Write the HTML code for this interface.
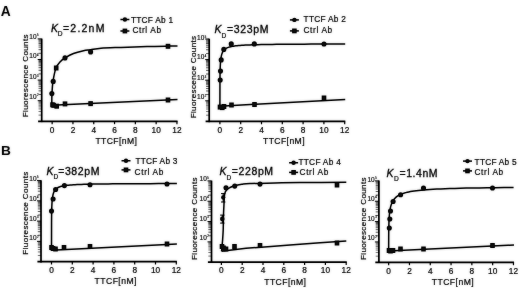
<!DOCTYPE html>
<html><head><meta charset="utf-8"><title>Figure</title>
<style>
html,body{margin:0;padding:0;background:#fff;}
body{width:520px;height:288px;overflow:hidden;}
svg{display:block;font-family:"Liberation Sans",sans-serif;fill:#0a0a0a;}
text{stroke:#0a0a0a;stroke-width:0.2px;}
text.k{stroke-width:0.3px;}
text.t{stroke-width:0.15px;}
text.y{stroke-width:0.2px;}
</style></head><body>
<svg width="520" height="288" viewBox="0 0 520 288">
<rect width="520" height="288" fill="#fff"/>
<g filter="url(#b)">
<text x="0.7" y="15.6" font-size="13.8" font-weight="bold" style="stroke-width:0">A</text>
<text x="1.0" y="155.3" font-size="13.7" font-weight="bold" style="stroke-width:0">B</text>
<line x1="41.70" y1="38.60" x2="41.70" y2="122.10" stroke="#000" stroke-width="1.70"/>
<line x1="38.10" y1="121.30" x2="177.55" y2="121.30" stroke="#000" stroke-width="1.70"/>
<line x1="52.15" y1="121.30" x2="52.15" y2="124.20" stroke="#000" stroke-width="1.20"/>
<text x="52.15" y="132.90" font-size="8.30" text-anchor="middle" >0</text>
<line x1="72.95" y1="121.30" x2="72.95" y2="124.20" stroke="#000" stroke-width="1.20"/>
<text x="72.95" y="132.90" font-size="8.30" text-anchor="middle" >2</text>
<line x1="93.75" y1="121.30" x2="93.75" y2="124.20" stroke="#000" stroke-width="1.20"/>
<text x="93.75" y="132.90" font-size="8.30" text-anchor="middle" >4</text>
<line x1="114.55" y1="121.30" x2="114.55" y2="124.20" stroke="#000" stroke-width="1.20"/>
<text x="114.55" y="132.90" font-size="8.30" text-anchor="middle" >6</text>
<line x1="135.35" y1="121.30" x2="135.35" y2="124.20" stroke="#000" stroke-width="1.20"/>
<text x="135.35" y="132.90" font-size="8.30" text-anchor="middle" >8</text>
<line x1="156.15" y1="121.30" x2="156.15" y2="124.20" stroke="#000" stroke-width="1.20"/>
<text x="156.15" y="132.90" font-size="8.30" text-anchor="middle" >10</text>
<line x1="176.95" y1="121.30" x2="176.95" y2="124.20" stroke="#000" stroke-width="1.20"/>
<text x="176.95" y="132.90" font-size="8.30" text-anchor="middle" >12</text>
<line x1="37.70" y1="38.90" x2="41.70" y2="38.90" stroke="#000" stroke-width="1.00"/>
<line x1="38.50" y1="53.30" x2="41.70" y2="53.30" stroke="#000" stroke-width="0.80" opacity="0.80"/>
<line x1="38.50" y1="49.67" x2="41.70" y2="49.67" stroke="#000" stroke-width="0.80" opacity="0.80"/>
<line x1="38.50" y1="47.10" x2="41.70" y2="47.10" stroke="#000" stroke-width="0.80" opacity="0.80"/>
<line x1="38.50" y1="45.10" x2="41.70" y2="45.10" stroke="#000" stroke-width="0.80" opacity="0.80"/>
<line x1="38.50" y1="43.47" x2="41.70" y2="43.47" stroke="#000" stroke-width="0.80" opacity="0.80"/>
<line x1="38.50" y1="42.09" x2="41.70" y2="42.09" stroke="#000" stroke-width="0.80" opacity="0.80"/>
<line x1="38.50" y1="40.90" x2="41.70" y2="40.90" stroke="#000" stroke-width="0.80" opacity="0.80"/>
<line x1="38.50" y1="39.84" x2="41.70" y2="39.84" stroke="#000" stroke-width="0.80" opacity="0.80"/>
<text x="36.60" y="39.00" font-size="6.50" text-anchor="end" class="t">10</text>
<text x="37.10" y="36.40" font-size="2.70" text-anchor="start" class="t">5</text>
<line x1="37.70" y1="59.50" x2="41.70" y2="59.50" stroke="#000" stroke-width="1.00"/>
<line x1="38.50" y1="73.90" x2="41.70" y2="73.90" stroke="#000" stroke-width="0.80" opacity="0.80"/>
<line x1="38.50" y1="70.27" x2="41.70" y2="70.27" stroke="#000" stroke-width="0.80" opacity="0.80"/>
<line x1="38.50" y1="67.70" x2="41.70" y2="67.70" stroke="#000" stroke-width="0.80" opacity="0.80"/>
<line x1="38.50" y1="65.70" x2="41.70" y2="65.70" stroke="#000" stroke-width="0.80" opacity="0.80"/>
<line x1="38.50" y1="64.07" x2="41.70" y2="64.07" stroke="#000" stroke-width="0.80" opacity="0.80"/>
<line x1="38.50" y1="62.69" x2="41.70" y2="62.69" stroke="#000" stroke-width="0.80" opacity="0.80"/>
<line x1="38.50" y1="61.50" x2="41.70" y2="61.50" stroke="#000" stroke-width="0.80" opacity="0.80"/>
<line x1="38.50" y1="60.44" x2="41.70" y2="60.44" stroke="#000" stroke-width="0.80" opacity="0.80"/>
<text x="36.60" y="58.10" font-size="6.50" text-anchor="end" class="t">10</text>
<text x="37.10" y="55.50" font-size="2.70" text-anchor="start" class="t">4</text>
<line x1="37.70" y1="80.10" x2="41.70" y2="80.10" stroke="#000" stroke-width="1.00"/>
<line x1="38.50" y1="94.50" x2="41.70" y2="94.50" stroke="#000" stroke-width="0.80" opacity="0.80"/>
<line x1="38.50" y1="90.87" x2="41.70" y2="90.87" stroke="#000" stroke-width="0.80" opacity="0.80"/>
<line x1="38.50" y1="88.30" x2="41.70" y2="88.30" stroke="#000" stroke-width="0.80" opacity="0.80"/>
<line x1="38.50" y1="86.30" x2="41.70" y2="86.30" stroke="#000" stroke-width="0.80" opacity="0.80"/>
<line x1="38.50" y1="84.67" x2="41.70" y2="84.67" stroke="#000" stroke-width="0.80" opacity="0.80"/>
<line x1="38.50" y1="83.29" x2="41.70" y2="83.29" stroke="#000" stroke-width="0.80" opacity="0.80"/>
<line x1="38.50" y1="82.10" x2="41.70" y2="82.10" stroke="#000" stroke-width="0.80" opacity="0.80"/>
<line x1="38.50" y1="81.04" x2="41.70" y2="81.04" stroke="#000" stroke-width="0.80" opacity="0.80"/>
<text x="36.60" y="79.30" font-size="6.50" text-anchor="end" class="t">10</text>
<text x="37.10" y="76.70" font-size="2.70" text-anchor="start" class="t">3</text>
<line x1="37.70" y1="100.70" x2="41.70" y2="100.70" stroke="#000" stroke-width="1.00"/>
<line x1="38.50" y1="115.10" x2="41.70" y2="115.10" stroke="#000" stroke-width="0.80" opacity="0.65"/>
<line x1="38.50" y1="111.47" x2="41.70" y2="111.47" stroke="#000" stroke-width="0.80" opacity="0.65"/>
<line x1="38.50" y1="108.90" x2="41.70" y2="108.90" stroke="#000" stroke-width="0.80" opacity="0.65"/>
<line x1="38.50" y1="106.90" x2="41.70" y2="106.90" stroke="#000" stroke-width="0.80" opacity="0.65"/>
<line x1="38.50" y1="105.27" x2="41.70" y2="105.27" stroke="#000" stroke-width="0.80" opacity="0.65"/>
<line x1="38.50" y1="103.89" x2="41.70" y2="103.89" stroke="#000" stroke-width="0.80" opacity="0.65"/>
<line x1="38.50" y1="102.70" x2="41.70" y2="102.70" stroke="#000" stroke-width="0.80" opacity="0.65"/>
<line x1="38.50" y1="101.64" x2="41.70" y2="101.64" stroke="#000" stroke-width="0.80" opacity="0.65"/>
<text x="36.60" y="98.50" font-size="6.50" text-anchor="end" class="t">10</text>
<text x="37.10" y="95.90" font-size="2.70" text-anchor="start" class="t">2</text>
<text transform="translate(28.00 117.20) rotate(-90)" font-size="8.1" class="y" text-anchor="start" textLength="82.80" lengthAdjust="spacing">Fluorescence Counts</text>
<text x="95.40" y="144.10" font-size="8.60" text-anchor="start" textLength="41.60" lengthAdjust="spacing" >TTCF[nM]</text>
<text x="50.90" y="31.50" font-size="10.50" text-anchor="start" font-style="italic" class="k">K</text>
<text x="57.80" y="35.60" font-size="6.60" text-anchor="start" >D</text>
<text x="63.00" y="31.50" font-size="10.50" text-anchor="start" textLength="41.40" lengthAdjust="spacing" class="k">=2.2nM</text>
<line x1="120.40" y1="19.50" x2="129.40" y2="19.50" stroke="#000" stroke-width="1.50"/>
<circle cx="124.90" cy="19.50" r="2.20"/>
<line x1="120.40" y1="31.00" x2="129.40" y2="31.00" stroke="#000" stroke-width="1.50"/>
<rect x="122.60" y="28.60" width="4.60" height="4.80"/>
<text x="131.00" y="22.60" font-size="8.30" text-anchor="start" textLength="42.00" lengthAdjust="spacing" >TTCF Ab 1</text>
<text x="132.40" y="33.40" font-size="8.30" text-anchor="start" textLength="28.60" lengthAdjust="spacing" >Ctrl Ab</text>
<path d="M51.80 105.00 C51.82 103.10 51.75 97.53 51.95 93.60 C52.15 89.67 52.33 85.67 53.00 81.40 C53.67 77.13 54.75 71.32 56.00 68.00 C57.25 64.68 59.00 63.18 60.50 61.50 C62.00 59.82 62.83 59.23 65.00 57.90 C67.17 56.57 70.42 54.69 73.50 53.50 C76.58 52.31 80.65 51.38 83.50 50.75 C86.35 50.12 87.68 50.17 90.60 49.75 C93.52 49.33 95.93 48.64 101.00 48.25 C106.07 47.86 113.33 47.69 121.00 47.40 C128.67 47.11 139.17 46.72 147.00 46.50 C154.83 46.28 162.92 46.18 168.00 46.10 C173.08 46.02 175.92 46.02 177.50 46.00" fill="none" stroke="#000" stroke-width="1.5" stroke-linejoin="round"/>
<path d="M51.85 105.30 L177.50 99.50" fill="none" stroke="#000" stroke-width="1.5"/>
<circle cx="51.85" cy="93.60" r="2.55"/>
<circle cx="53.20" cy="81.40" r="2.55"/>
<rect x="53.90" y="65.50" width="4.60" height="5.00"/>
<circle cx="65.00" cy="57.90" r="2.55"/>
<circle cx="90.60" cy="51.90" r="2.55"/>
<rect x="165.70" y="43.80" width="4.60" height="5.00"/>
<rect x="50.20" y="102.30" width="4.60" height="5.00"/>
<rect x="51.30" y="102.80" width="4.60" height="5.00"/>
<rect x="54.40" y="103.70" width="4.60" height="5.00"/>
<rect x="62.70" y="101.40" width="4.60" height="5.00"/>
<rect x="88.30" y="101.10" width="4.60" height="5.00"/>
<rect x="165.70" y="97.50" width="4.60" height="5.00"/>
<line x1="209.20" y1="38.70" x2="209.20" y2="122.20" stroke="#000" stroke-width="1.70"/>
<line x1="205.60" y1="121.40" x2="345.30" y2="121.40" stroke="#000" stroke-width="1.70"/>
<line x1="219.90" y1="121.40" x2="219.90" y2="124.30" stroke="#000" stroke-width="1.20"/>
<text x="219.90" y="132.90" font-size="8.30" text-anchor="middle" >0</text>
<line x1="240.70" y1="121.40" x2="240.70" y2="124.30" stroke="#000" stroke-width="1.20"/>
<text x="240.70" y="132.90" font-size="8.30" text-anchor="middle" >2</text>
<line x1="261.50" y1="121.40" x2="261.50" y2="124.30" stroke="#000" stroke-width="1.20"/>
<text x="261.50" y="132.90" font-size="8.30" text-anchor="middle" >4</text>
<line x1="282.30" y1="121.40" x2="282.30" y2="124.30" stroke="#000" stroke-width="1.20"/>
<text x="282.30" y="132.90" font-size="8.30" text-anchor="middle" >6</text>
<line x1="303.10" y1="121.40" x2="303.10" y2="124.30" stroke="#000" stroke-width="1.20"/>
<text x="303.10" y="132.90" font-size="8.30" text-anchor="middle" >8</text>
<line x1="323.90" y1="121.40" x2="323.90" y2="124.30" stroke="#000" stroke-width="1.20"/>
<text x="323.90" y="132.90" font-size="8.30" text-anchor="middle" >10</text>
<line x1="344.70" y1="121.40" x2="344.70" y2="124.30" stroke="#000" stroke-width="1.20"/>
<text x="344.70" y="132.90" font-size="8.30" text-anchor="middle" >12</text>
<line x1="205.20" y1="39.00" x2="209.20" y2="39.00" stroke="#000" stroke-width="1.00"/>
<line x1="206.00" y1="53.40" x2="209.20" y2="53.40" stroke="#000" stroke-width="0.80" opacity="0.80"/>
<line x1="206.00" y1="49.77" x2="209.20" y2="49.77" stroke="#000" stroke-width="0.80" opacity="0.80"/>
<line x1="206.00" y1="47.20" x2="209.20" y2="47.20" stroke="#000" stroke-width="0.80" opacity="0.80"/>
<line x1="206.00" y1="45.20" x2="209.20" y2="45.20" stroke="#000" stroke-width="0.80" opacity="0.80"/>
<line x1="206.00" y1="43.57" x2="209.20" y2="43.57" stroke="#000" stroke-width="0.80" opacity="0.80"/>
<line x1="206.00" y1="42.19" x2="209.20" y2="42.19" stroke="#000" stroke-width="0.80" opacity="0.80"/>
<line x1="206.00" y1="41.00" x2="209.20" y2="41.00" stroke="#000" stroke-width="0.80" opacity="0.80"/>
<line x1="206.00" y1="39.94" x2="209.20" y2="39.94" stroke="#000" stroke-width="0.80" opacity="0.80"/>
<text x="204.30" y="40.10" font-size="6.50" text-anchor="end" class="t">10</text>
<text x="204.80" y="37.50" font-size="2.70" text-anchor="start" class="t">5</text>
<line x1="205.20" y1="59.60" x2="209.20" y2="59.60" stroke="#000" stroke-width="1.00"/>
<line x1="206.00" y1="74.00" x2="209.20" y2="74.00" stroke="#000" stroke-width="0.80" opacity="0.80"/>
<line x1="206.00" y1="70.37" x2="209.20" y2="70.37" stroke="#000" stroke-width="0.80" opacity="0.80"/>
<line x1="206.00" y1="67.80" x2="209.20" y2="67.80" stroke="#000" stroke-width="0.80" opacity="0.80"/>
<line x1="206.00" y1="65.80" x2="209.20" y2="65.80" stroke="#000" stroke-width="0.80" opacity="0.80"/>
<line x1="206.00" y1="64.17" x2="209.20" y2="64.17" stroke="#000" stroke-width="0.80" opacity="0.80"/>
<line x1="206.00" y1="62.79" x2="209.20" y2="62.79" stroke="#000" stroke-width="0.80" opacity="0.80"/>
<line x1="206.00" y1="61.60" x2="209.20" y2="61.60" stroke="#000" stroke-width="0.80" opacity="0.80"/>
<line x1="206.00" y1="60.54" x2="209.20" y2="60.54" stroke="#000" stroke-width="0.80" opacity="0.80"/>
<text x="204.30" y="59.20" font-size="6.50" text-anchor="end" class="t">10</text>
<text x="204.80" y="56.60" font-size="2.70" text-anchor="start" class="t">4</text>
<line x1="205.20" y1="80.20" x2="209.20" y2="80.20" stroke="#000" stroke-width="1.00"/>
<line x1="206.00" y1="94.60" x2="209.20" y2="94.60" stroke="#000" stroke-width="0.80" opacity="0.80"/>
<line x1="206.00" y1="90.97" x2="209.20" y2="90.97" stroke="#000" stroke-width="0.80" opacity="0.80"/>
<line x1="206.00" y1="88.40" x2="209.20" y2="88.40" stroke="#000" stroke-width="0.80" opacity="0.80"/>
<line x1="206.00" y1="86.40" x2="209.20" y2="86.40" stroke="#000" stroke-width="0.80" opacity="0.80"/>
<line x1="206.00" y1="84.77" x2="209.20" y2="84.77" stroke="#000" stroke-width="0.80" opacity="0.80"/>
<line x1="206.00" y1="83.39" x2="209.20" y2="83.39" stroke="#000" stroke-width="0.80" opacity="0.80"/>
<line x1="206.00" y1="82.20" x2="209.20" y2="82.20" stroke="#000" stroke-width="0.80" opacity="0.80"/>
<line x1="206.00" y1="81.14" x2="209.20" y2="81.14" stroke="#000" stroke-width="0.80" opacity="0.80"/>
<text x="204.30" y="80.20" font-size="6.50" text-anchor="end" class="t">10</text>
<text x="204.80" y="77.60" font-size="2.70" text-anchor="start" class="t">3</text>
<line x1="205.20" y1="100.80" x2="209.20" y2="100.80" stroke="#000" stroke-width="1.00"/>
<line x1="206.00" y1="115.20" x2="209.20" y2="115.20" stroke="#000" stroke-width="0.80" opacity="0.65"/>
<line x1="206.00" y1="111.57" x2="209.20" y2="111.57" stroke="#000" stroke-width="0.80" opacity="0.65"/>
<line x1="206.00" y1="109.00" x2="209.20" y2="109.00" stroke="#000" stroke-width="0.80" opacity="0.65"/>
<line x1="206.00" y1="107.00" x2="209.20" y2="107.00" stroke="#000" stroke-width="0.80" opacity="0.65"/>
<line x1="206.00" y1="105.37" x2="209.20" y2="105.37" stroke="#000" stroke-width="0.80" opacity="0.65"/>
<line x1="206.00" y1="103.99" x2="209.20" y2="103.99" stroke="#000" stroke-width="0.80" opacity="0.65"/>
<line x1="206.00" y1="102.80" x2="209.20" y2="102.80" stroke="#000" stroke-width="0.80" opacity="0.65"/>
<line x1="206.00" y1="101.74" x2="209.20" y2="101.74" stroke="#000" stroke-width="0.80" opacity="0.65"/>
<text x="204.30" y="99.20" font-size="6.50" text-anchor="end" class="t">10</text>
<text x="204.80" y="96.60" font-size="2.70" text-anchor="start" class="t">2</text>
<text transform="translate(196.10 118.30) rotate(-90)" font-size="8.1" class="y" text-anchor="start" textLength="82.40" lengthAdjust="spacing">Fluorescence Counts</text>
<text x="263.00" y="144.10" font-size="8.60" text-anchor="start" textLength="41.60" lengthAdjust="spacing" >TTCF[nM]</text>
<text x="214.60" y="33.40" font-size="10.50" text-anchor="start" font-style="italic" class="k">K</text>
<text x="221.60" y="37.50" font-size="6.60" text-anchor="start" >D</text>
<text x="227.00" y="33.40" font-size="10.50" text-anchor="start" textLength="41.40" lengthAdjust="spacing" class="k">=323pM</text>
<line x1="289.90" y1="19.90" x2="298.90" y2="19.90" stroke="#000" stroke-width="1.50"/>
<circle cx="294.40" cy="19.90" r="2.20"/>
<line x1="289.90" y1="30.90" x2="298.90" y2="30.90" stroke="#000" stroke-width="1.50"/>
<rect x="292.10" y="28.50" width="4.60" height="4.80"/>
<text x="303.60" y="22.40" font-size="8.30" text-anchor="start" textLength="42.20" lengthAdjust="spacing" >TTCF Ab 2</text>
<text x="303.40" y="32.80" font-size="8.30" text-anchor="start" textLength="28.80" lengthAdjust="spacing" >Ctrl Ab</text>
<path d="M219.90 106.20 L219.95 83.35 L219.99 77.60 L220.04 74.19 L220.09 71.77 L220.14 69.90 L220.18 68.39 L220.23 67.12 L220.28 66.03 L220.33 65.08 L220.37 64.24 L220.42 63.48 L220.46 62.85 L220.51 62.23 L220.56 61.62 L220.61 61.01 L220.67 60.41 L220.74 59.81 L220.81 59.22 L220.88 58.65 L220.96 58.07 L221.05 57.51 L221.15 56.96 L221.25 56.42 L221.36 55.88 L221.48 55.36 L221.61 54.85 L221.75 54.35 L221.91 53.86 L222.07 53.39 L222.25 52.92 L222.45 52.47 L222.66 52.04 L222.89 51.61 L223.14 51.20 L223.40 50.80 L223.69 50.42 L224.01 50.05 L224.35 49.70 L224.71 49.36 L225.11 49.03 L225.54 48.72 L226.01 48.42 L226.52 48.14 L227.06 47.86 L227.66 47.61 L228.30 47.36 L228.99 47.13 L229.75 46.91 L230.56 46.70 L231.44 46.50 L232.40 46.31 L233.43 46.14 L234.55 45.97 L235.76 45.82 L237.08 45.67 L238.50 45.54 L240.04 45.41 L241.70 45.29 L243.51 45.17 L245.46 45.07 L247.57 44.97 L249.86 44.88 L252.34 44.79 L255.02 44.71 L257.93 44.64 L261.08 44.57 L264.48 44.51 L268.17 44.45 L272.17 44.39 L276.49 44.34 L281.17 44.29 L286.24 44.24 L291.73 44.20 L297.67 44.16 L304.11 44.13 L311.07 44.09 L318.62 44.06 L326.78 44.03 L335.63 44.01 L345.20 43.98" fill="none" stroke="#000" stroke-width="1.5" stroke-linejoin="round"/>
<path d="M219.90 106.20 L345.20 99.40" fill="none" stroke="#000" stroke-width="1.5"/>
<circle cx="220.20" cy="80.00" r="2.55"/>
<circle cx="220.50" cy="71.10" r="2.55"/>
<circle cx="221.20" cy="59.90" r="2.55"/>
<circle cx="223.80" cy="49.40" r="2.55"/>
<circle cx="231.25" cy="43.90" r="2.55"/>
<circle cx="254.30" cy="43.90" r="2.55"/>
<circle cx="324.00" cy="44.00" r="2.55"/>
<rect x="217.70" y="104.60" width="4.60" height="5.00"/>
<rect x="220.00" y="105.10" width="4.60" height="5.00"/>
<rect x="221.70" y="104.00" width="4.60" height="5.00"/>
<rect x="229.20" y="102.50" width="4.60" height="5.00"/>
<rect x="252.20" y="102.00" width="4.60" height="5.00"/>
<rect x="321.70" y="95.50" width="4.60" height="5.00"/>
<line x1="41.00" y1="180.30" x2="41.00" y2="262.40" stroke="#000" stroke-width="1.70"/>
<line x1="37.40" y1="261.60" x2="176.90" y2="261.60" stroke="#000" stroke-width="1.70"/>
<line x1="51.50" y1="261.60" x2="51.50" y2="264.50" stroke="#000" stroke-width="1.20"/>
<text x="51.50" y="272.80" font-size="8.30" text-anchor="middle" >0</text>
<line x1="72.30" y1="261.60" x2="72.30" y2="264.50" stroke="#000" stroke-width="1.20"/>
<text x="72.30" y="272.80" font-size="8.30" text-anchor="middle" >2</text>
<line x1="93.10" y1="261.60" x2="93.10" y2="264.50" stroke="#000" stroke-width="1.20"/>
<text x="93.10" y="272.80" font-size="8.30" text-anchor="middle" >4</text>
<line x1="113.90" y1="261.60" x2="113.90" y2="264.50" stroke="#000" stroke-width="1.20"/>
<text x="113.90" y="272.80" font-size="8.30" text-anchor="middle" >6</text>
<line x1="134.70" y1="261.60" x2="134.70" y2="264.50" stroke="#000" stroke-width="1.20"/>
<text x="134.70" y="272.80" font-size="8.30" text-anchor="middle" >8</text>
<line x1="155.50" y1="261.60" x2="155.50" y2="264.50" stroke="#000" stroke-width="1.20"/>
<text x="155.50" y="272.80" font-size="8.30" text-anchor="middle" >10</text>
<line x1="176.30" y1="261.60" x2="176.30" y2="264.50" stroke="#000" stroke-width="1.20"/>
<text x="176.30" y="272.80" font-size="8.30" text-anchor="middle" >12</text>
<line x1="37.00" y1="180.60" x2="41.00" y2="180.60" stroke="#000" stroke-width="1.00"/>
<line x1="37.80" y1="194.75" x2="41.00" y2="194.75" stroke="#000" stroke-width="0.80" opacity="0.80"/>
<line x1="37.80" y1="191.19" x2="41.00" y2="191.19" stroke="#000" stroke-width="0.80" opacity="0.80"/>
<line x1="37.80" y1="188.66" x2="41.00" y2="188.66" stroke="#000" stroke-width="0.80" opacity="0.80"/>
<line x1="37.80" y1="186.70" x2="41.00" y2="186.70" stroke="#000" stroke-width="0.80" opacity="0.80"/>
<line x1="37.80" y1="185.09" x2="41.00" y2="185.09" stroke="#000" stroke-width="0.80" opacity="0.80"/>
<line x1="37.80" y1="183.74" x2="41.00" y2="183.74" stroke="#000" stroke-width="0.80" opacity="0.80"/>
<line x1="37.80" y1="182.56" x2="41.00" y2="182.56" stroke="#000" stroke-width="0.80" opacity="0.80"/>
<line x1="37.80" y1="181.53" x2="41.00" y2="181.53" stroke="#000" stroke-width="0.80" opacity="0.80"/>
<text x="36.50" y="180.60" font-size="6.50" text-anchor="end" class="t">10</text>
<text x="37.00" y="178.00" font-size="2.70" text-anchor="start" class="t">5</text>
<line x1="37.00" y1="200.85" x2="41.00" y2="200.85" stroke="#000" stroke-width="1.00"/>
<line x1="37.80" y1="215.00" x2="41.00" y2="215.00" stroke="#000" stroke-width="0.80" opacity="0.80"/>
<line x1="37.80" y1="211.44" x2="41.00" y2="211.44" stroke="#000" stroke-width="0.80" opacity="0.80"/>
<line x1="37.80" y1="208.91" x2="41.00" y2="208.91" stroke="#000" stroke-width="0.80" opacity="0.80"/>
<line x1="37.80" y1="206.95" x2="41.00" y2="206.95" stroke="#000" stroke-width="0.80" opacity="0.80"/>
<line x1="37.80" y1="205.34" x2="41.00" y2="205.34" stroke="#000" stroke-width="0.80" opacity="0.80"/>
<line x1="37.80" y1="203.99" x2="41.00" y2="203.99" stroke="#000" stroke-width="0.80" opacity="0.80"/>
<line x1="37.80" y1="202.81" x2="41.00" y2="202.81" stroke="#000" stroke-width="0.80" opacity="0.80"/>
<line x1="37.80" y1="201.78" x2="41.00" y2="201.78" stroke="#000" stroke-width="0.80" opacity="0.80"/>
<text x="36.50" y="200.60" font-size="6.50" text-anchor="end" class="t">10</text>
<text x="37.00" y="198.00" font-size="2.70" text-anchor="start" class="t">4</text>
<line x1="37.00" y1="221.10" x2="41.00" y2="221.10" stroke="#000" stroke-width="1.00"/>
<line x1="37.80" y1="235.25" x2="41.00" y2="235.25" stroke="#000" stroke-width="0.80" opacity="0.80"/>
<line x1="37.80" y1="231.69" x2="41.00" y2="231.69" stroke="#000" stroke-width="0.80" opacity="0.80"/>
<line x1="37.80" y1="229.16" x2="41.00" y2="229.16" stroke="#000" stroke-width="0.80" opacity="0.80"/>
<line x1="37.80" y1="227.20" x2="41.00" y2="227.20" stroke="#000" stroke-width="0.80" opacity="0.80"/>
<line x1="37.80" y1="225.59" x2="41.00" y2="225.59" stroke="#000" stroke-width="0.80" opacity="0.80"/>
<line x1="37.80" y1="224.24" x2="41.00" y2="224.24" stroke="#000" stroke-width="0.80" opacity="0.80"/>
<line x1="37.80" y1="223.06" x2="41.00" y2="223.06" stroke="#000" stroke-width="0.80" opacity="0.80"/>
<line x1="37.80" y1="222.03" x2="41.00" y2="222.03" stroke="#000" stroke-width="0.80" opacity="0.80"/>
<text x="36.50" y="220.60" font-size="6.50" text-anchor="end" class="t">10</text>
<text x="37.00" y="218.00" font-size="2.70" text-anchor="start" class="t">3</text>
<line x1="37.00" y1="241.35" x2="41.00" y2="241.35" stroke="#000" stroke-width="1.00"/>
<line x1="37.80" y1="255.50" x2="41.00" y2="255.50" stroke="#000" stroke-width="0.80" opacity="0.65"/>
<line x1="37.80" y1="251.94" x2="41.00" y2="251.94" stroke="#000" stroke-width="0.80" opacity="0.65"/>
<line x1="37.80" y1="249.41" x2="41.00" y2="249.41" stroke="#000" stroke-width="0.80" opacity="0.65"/>
<line x1="37.80" y1="247.45" x2="41.00" y2="247.45" stroke="#000" stroke-width="0.80" opacity="0.65"/>
<line x1="37.80" y1="245.84" x2="41.00" y2="245.84" stroke="#000" stroke-width="0.80" opacity="0.65"/>
<line x1="37.80" y1="244.49" x2="41.00" y2="244.49" stroke="#000" stroke-width="0.80" opacity="0.65"/>
<line x1="37.80" y1="243.31" x2="41.00" y2="243.31" stroke="#000" stroke-width="0.80" opacity="0.65"/>
<line x1="37.80" y1="242.28" x2="41.00" y2="242.28" stroke="#000" stroke-width="0.80" opacity="0.65"/>
<text x="36.50" y="240.30" font-size="6.50" text-anchor="end" class="t">10</text>
<text x="37.00" y="237.70" font-size="2.70" text-anchor="start" class="t">2</text>
<text transform="translate(27.60 254.70) rotate(-90)" font-size="8.1" class="y" text-anchor="start" textLength="83.00" lengthAdjust="spacing">Fluorescence Counts</text>
<text x="94.60" y="284.30" font-size="8.60" text-anchor="start" textLength="41.80" lengthAdjust="spacing" >TTCF[nM]</text>
<text x="46.50" y="174.75" font-size="10.50" text-anchor="start" font-style="italic" class="k">K</text>
<text x="53.40" y="178.85" font-size="6.60" text-anchor="start" >D</text>
<text x="58.20" y="174.75" font-size="10.50" text-anchor="start" textLength="41.20" lengthAdjust="spacing" class="k">=382pM</text>
<line x1="121.50" y1="160.75" x2="130.50" y2="160.75" stroke="#000" stroke-width="1.50"/>
<circle cx="126.00" cy="160.75" r="2.20"/>
<line x1="121.50" y1="169.90" x2="130.50" y2="169.90" stroke="#000" stroke-width="1.50"/>
<rect x="123.70" y="167.50" width="4.60" height="4.80"/>
<text x="135.40" y="164.00" font-size="8.30" text-anchor="start" textLength="42.00" lengthAdjust="spacing" >TTCF Ab 3</text>
<text x="134.60" y="174.60" font-size="8.30" text-anchor="start" textLength="28.80" lengthAdjust="spacing" >Ctrl Ab</text>
<path d="M51.50 250.30 L51.55 222.63 L51.59 216.74 L51.64 213.29 L51.69 210.85 L51.74 208.97 L51.78 207.46 L51.83 206.19 L51.88 205.10 L51.93 204.15 L51.97 203.30 L52.02 202.55 L52.06 201.93 L52.11 201.31 L52.16 200.70 L52.21 200.09 L52.27 199.50 L52.34 198.91 L52.41 198.33 L52.48 197.75 L52.56 197.19 L52.65 196.63 L52.75 196.09 L52.85 195.55 L52.96 195.03 L53.08 194.52 L53.21 194.01 L53.36 193.52 L53.51 193.05 L53.68 192.58 L53.86 192.13 L54.05 191.69 L54.26 191.26 L54.49 190.85 L54.74 190.45 L55.00 190.07 L55.29 189.70 L55.61 189.34 L55.95 189.00 L56.32 188.67 L56.72 188.36 L57.15 188.06 L57.61 187.77 L58.12 187.50 L58.67 187.24 L59.26 186.99 L59.90 186.76 L60.60 186.53 L61.35 186.32 L62.17 186.13 L63.05 185.94 L64.00 185.76 L65.04 185.60 L66.16 185.44 L67.37 185.29 L68.68 185.15 L70.11 185.02 L71.65 184.90 L73.31 184.79 L75.12 184.68 L77.07 184.59 L79.19 184.49 L81.48 184.41 L83.96 184.33 L86.65 184.25 L89.55 184.18 L92.70 184.12 L96.11 184.06 L99.80 184.00 L103.80 183.95 L108.13 183.90 L112.81 183.85 L117.89 183.81 L123.38 183.77 L129.33 183.74 L135.77 183.70 L142.74 183.67 L150.29 183.64 L158.47 183.62 L167.32 183.59 L176.90 183.57" fill="none" stroke="#000" stroke-width="1.5" stroke-linejoin="round"/>
<path d="M51.50 250.30 L176.90 244.00" fill="none" stroke="#000" stroke-width="1.5"/>
<circle cx="51.50" cy="211.00" r="2.55"/>
<circle cx="53.10" cy="199.00" r="2.55"/>
<circle cx="55.60" cy="189.50" r="2.55"/>
<circle cx="64.40" cy="185.60" r="2.55"/>
<circle cx="90.00" cy="184.75" r="2.55"/>
<circle cx="167.00" cy="184.00" r="2.55"/>
<rect x="49.20" y="245.00" width="4.60" height="5.00"/>
<rect x="50.70" y="246.00" width="4.60" height="5.00"/>
<rect x="53.20" y="246.50" width="4.60" height="5.00"/>
<rect x="61.70" y="245.00" width="4.60" height="5.00"/>
<rect x="87.70" y="244.00" width="4.60" height="5.00"/>
<rect x="164.70" y="241.50" width="4.60" height="5.00"/>
<line x1="211.50" y1="180.60" x2="211.50" y2="263.00" stroke="#000" stroke-width="1.70"/>
<line x1="207.90" y1="262.20" x2="346.80" y2="262.20" stroke="#000" stroke-width="1.70"/>
<line x1="221.40" y1="262.20" x2="221.40" y2="265.10" stroke="#000" stroke-width="1.20"/>
<text x="221.40" y="273.10" font-size="8.30" text-anchor="middle" >0</text>
<line x1="242.20" y1="262.20" x2="242.20" y2="265.10" stroke="#000" stroke-width="1.20"/>
<text x="242.20" y="273.10" font-size="8.30" text-anchor="middle" >2</text>
<line x1="263.00" y1="262.20" x2="263.00" y2="265.10" stroke="#000" stroke-width="1.20"/>
<text x="263.00" y="273.10" font-size="8.30" text-anchor="middle" >4</text>
<line x1="283.80" y1="262.20" x2="283.80" y2="265.10" stroke="#000" stroke-width="1.20"/>
<text x="283.80" y="273.10" font-size="8.30" text-anchor="middle" >6</text>
<line x1="304.60" y1="262.20" x2="304.60" y2="265.10" stroke="#000" stroke-width="1.20"/>
<text x="304.60" y="273.10" font-size="8.30" text-anchor="middle" >8</text>
<line x1="325.40" y1="262.20" x2="325.40" y2="265.10" stroke="#000" stroke-width="1.20"/>
<text x="325.40" y="273.10" font-size="8.30" text-anchor="middle" >10</text>
<line x1="346.20" y1="262.20" x2="346.20" y2="265.10" stroke="#000" stroke-width="1.20"/>
<text x="346.20" y="273.10" font-size="8.30" text-anchor="middle" >12</text>
<line x1="207.50" y1="180.90" x2="211.50" y2="180.90" stroke="#000" stroke-width="1.00"/>
<line x1="208.30" y1="195.11" x2="211.50" y2="195.11" stroke="#000" stroke-width="0.80" opacity="0.80"/>
<line x1="208.30" y1="191.53" x2="211.50" y2="191.53" stroke="#000" stroke-width="0.80" opacity="0.80"/>
<line x1="208.30" y1="188.99" x2="211.50" y2="188.99" stroke="#000" stroke-width="0.80" opacity="0.80"/>
<line x1="208.30" y1="187.02" x2="211.50" y2="187.02" stroke="#000" stroke-width="0.80" opacity="0.80"/>
<line x1="208.30" y1="185.41" x2="211.50" y2="185.41" stroke="#000" stroke-width="0.80" opacity="0.80"/>
<line x1="208.30" y1="184.05" x2="211.50" y2="184.05" stroke="#000" stroke-width="0.80" opacity="0.80"/>
<line x1="208.30" y1="182.87" x2="211.50" y2="182.87" stroke="#000" stroke-width="0.80" opacity="0.80"/>
<line x1="208.30" y1="181.83" x2="211.50" y2="181.83" stroke="#000" stroke-width="0.80" opacity="0.80"/>
<text x="206.80" y="181.20" font-size="6.50" text-anchor="end" class="t">10</text>
<text x="207.30" y="178.60" font-size="2.70" text-anchor="start" class="t">5</text>
<line x1="207.50" y1="201.22" x2="211.50" y2="201.22" stroke="#000" stroke-width="1.00"/>
<line x1="208.30" y1="215.43" x2="211.50" y2="215.43" stroke="#000" stroke-width="0.80" opacity="0.80"/>
<line x1="208.30" y1="211.85" x2="211.50" y2="211.85" stroke="#000" stroke-width="0.80" opacity="0.80"/>
<line x1="208.30" y1="209.31" x2="211.50" y2="209.31" stroke="#000" stroke-width="0.80" opacity="0.80"/>
<line x1="208.30" y1="207.34" x2="211.50" y2="207.34" stroke="#000" stroke-width="0.80" opacity="0.80"/>
<line x1="208.30" y1="205.73" x2="211.50" y2="205.73" stroke="#000" stroke-width="0.80" opacity="0.80"/>
<line x1="208.30" y1="204.37" x2="211.50" y2="204.37" stroke="#000" stroke-width="0.80" opacity="0.80"/>
<line x1="208.30" y1="203.19" x2="211.50" y2="203.19" stroke="#000" stroke-width="0.80" opacity="0.80"/>
<line x1="208.30" y1="202.16" x2="211.50" y2="202.16" stroke="#000" stroke-width="0.80" opacity="0.80"/>
<text x="206.80" y="200.60" font-size="6.50" text-anchor="end" class="t">10</text>
<text x="207.30" y="198.00" font-size="2.70" text-anchor="start" class="t">4</text>
<line x1="207.50" y1="221.55" x2="211.50" y2="221.55" stroke="#000" stroke-width="1.00"/>
<line x1="208.30" y1="235.76" x2="211.50" y2="235.76" stroke="#000" stroke-width="0.80" opacity="0.80"/>
<line x1="208.30" y1="232.18" x2="211.50" y2="232.18" stroke="#000" stroke-width="0.80" opacity="0.80"/>
<line x1="208.30" y1="229.64" x2="211.50" y2="229.64" stroke="#000" stroke-width="0.80" opacity="0.80"/>
<line x1="208.30" y1="227.67" x2="211.50" y2="227.67" stroke="#000" stroke-width="0.80" opacity="0.80"/>
<line x1="208.30" y1="226.06" x2="211.50" y2="226.06" stroke="#000" stroke-width="0.80" opacity="0.80"/>
<line x1="208.30" y1="224.70" x2="211.50" y2="224.70" stroke="#000" stroke-width="0.80" opacity="0.80"/>
<line x1="208.30" y1="223.52" x2="211.50" y2="223.52" stroke="#000" stroke-width="0.80" opacity="0.80"/>
<line x1="208.30" y1="222.48" x2="211.50" y2="222.48" stroke="#000" stroke-width="0.80" opacity="0.80"/>
<text x="206.80" y="220.60" font-size="6.50" text-anchor="end" class="t">10</text>
<text x="207.30" y="218.00" font-size="2.70" text-anchor="start" class="t">3</text>
<line x1="207.50" y1="241.88" x2="211.50" y2="241.88" stroke="#000" stroke-width="1.00"/>
<line x1="208.30" y1="256.08" x2="211.50" y2="256.08" stroke="#000" stroke-width="0.80" opacity="0.65"/>
<line x1="208.30" y1="252.50" x2="211.50" y2="252.50" stroke="#000" stroke-width="0.80" opacity="0.65"/>
<line x1="208.30" y1="249.96" x2="211.50" y2="249.96" stroke="#000" stroke-width="0.80" opacity="0.65"/>
<line x1="208.30" y1="247.99" x2="211.50" y2="247.99" stroke="#000" stroke-width="0.80" opacity="0.65"/>
<line x1="208.30" y1="246.38" x2="211.50" y2="246.38" stroke="#000" stroke-width="0.80" opacity="0.65"/>
<line x1="208.30" y1="245.02" x2="211.50" y2="245.02" stroke="#000" stroke-width="0.80" opacity="0.65"/>
<line x1="208.30" y1="243.84" x2="211.50" y2="243.84" stroke="#000" stroke-width="0.80" opacity="0.65"/>
<line x1="208.30" y1="242.81" x2="211.50" y2="242.81" stroke="#000" stroke-width="0.80" opacity="0.65"/>
<text x="206.80" y="239.80" font-size="6.50" text-anchor="end" class="t">10</text>
<text x="207.30" y="237.20" font-size="2.70" text-anchor="start" class="t">2</text>
<text transform="translate(197.20 260.00) rotate(-90)" font-size="8.1" class="y" text-anchor="start" textLength="82.60" lengthAdjust="spacing">Fluorescence Counts</text>
<text x="264.20" y="284.80" font-size="8.60" text-anchor="start" textLength="41.80" lengthAdjust="spacing" >TTCF[nM]</text>
<text x="219.60" y="175.40" font-size="10.50" text-anchor="start" font-style="italic" class="k">K</text>
<text x="226.60" y="179.50" font-size="6.60" text-anchor="start" >D</text>
<text x="231.70" y="175.40" font-size="10.50" text-anchor="start" textLength="41.40" lengthAdjust="spacing" class="k">=228pM</text>
<line x1="289.10" y1="162.75" x2="298.10" y2="162.75" stroke="#000" stroke-width="1.50"/>
<circle cx="293.60" cy="162.75" r="2.20"/>
<line x1="289.10" y1="172.40" x2="298.10" y2="172.40" stroke="#000" stroke-width="1.50"/>
<rect x="291.30" y="170.00" width="4.60" height="4.80"/>
<text x="298.40" y="164.90" font-size="8.30" text-anchor="start" textLength="42.40" lengthAdjust="spacing" >TTCF Ab 4</text>
<text x="299.50" y="175.25" font-size="8.30" text-anchor="start" textLength="28.80" lengthAdjust="spacing" >Ctrl Ab</text>
<path d="M221.60 251.20 C221.77 249.33 222.33 243.53 222.60 240.00 C222.87 236.47 223.05 234.17 223.20 230.00 C223.35 225.83 223.38 219.00 223.50 215.00 C223.62 211.00 223.70 209.53 223.90 206.00 C224.10 202.47 224.20 196.52 224.70 193.80 C225.20 191.08 226.02 190.75 226.90 189.70 C227.78 188.65 228.73 188.17 230.00 187.50 C231.27 186.83 232.53 186.23 234.50 185.70 C236.47 185.17 239.22 184.67 241.80 184.30 C244.38 183.93 244.47 183.72 250.00 183.50 C255.53 183.28 266.67 183.16 275.00 183.00 C283.33 182.84 288.12 182.68 300.00 182.55 C311.88 182.43 338.58 182.30 346.30 182.25" fill="none" stroke="#000" stroke-width="1.5" stroke-linejoin="round"/>
<path d="M221.60 251.25 L246.00 248.30 L271.00 246.40 L290.00 245.00 L320.00 242.85 L346.30 241.00" fill="none" stroke="#000" stroke-width="1.5"/>
<circle cx="222.30" cy="218.90" r="2.30"/>
<circle cx="223.20" cy="197.50" r="2.15"/>
<circle cx="226.00" cy="187.75" r="2.55"/>
<circle cx="234.75" cy="186.10" r="2.55"/>
<circle cx="260.00" cy="184.10" r="2.55"/>
<rect x="334.70" y="182.50" width="4.60" height="5.00"/>
<rect x="219.70" y="244.00" width="4.60" height="5.00"/>
<rect x="221.20" y="245.50" width="4.60" height="5.00"/>
<rect x="223.70" y="246.50" width="4.60" height="5.00"/>
<rect x="232.20" y="244.00" width="4.60" height="5.00"/>
<rect x="257.70" y="243.00" width="4.60" height="5.00"/>
<rect x="334.70" y="240.50" width="4.60" height="5.00"/>
<path d="M223.20 193.60 V202.00 M221.00 193.60 h4.4 M221.00 202.00 h4.4" stroke="#000" stroke-width="1" fill="none"/>
<path d="M222.30 215.10 V223.10 M220.10 215.10 h4.4 M220.10 223.10 h4.4" stroke="#000" stroke-width="1" fill="none"/>
<line x1="378.90" y1="180.60" x2="378.90" y2="263.10" stroke="#000" stroke-width="1.70"/>
<line x1="375.30" y1="262.30" x2="514.05" y2="262.30" stroke="#000" stroke-width="1.70"/>
<line x1="388.65" y1="262.30" x2="388.65" y2="265.20" stroke="#000" stroke-width="1.20"/>
<text x="388.65" y="273.50" font-size="8.30" text-anchor="middle" >0</text>
<line x1="409.45" y1="262.30" x2="409.45" y2="265.20" stroke="#000" stroke-width="1.20"/>
<text x="409.45" y="273.50" font-size="8.30" text-anchor="middle" >2</text>
<line x1="430.25" y1="262.30" x2="430.25" y2="265.20" stroke="#000" stroke-width="1.20"/>
<text x="430.25" y="273.50" font-size="8.30" text-anchor="middle" >4</text>
<line x1="451.05" y1="262.30" x2="451.05" y2="265.20" stroke="#000" stroke-width="1.20"/>
<text x="451.05" y="273.50" font-size="8.30" text-anchor="middle" >6</text>
<line x1="471.85" y1="262.30" x2="471.85" y2="265.20" stroke="#000" stroke-width="1.20"/>
<text x="471.85" y="273.50" font-size="8.30" text-anchor="middle" >8</text>
<line x1="492.65" y1="262.30" x2="492.65" y2="265.20" stroke="#000" stroke-width="1.20"/>
<text x="492.65" y="273.50" font-size="8.30" text-anchor="middle" >10</text>
<line x1="513.45" y1="262.30" x2="513.45" y2="265.20" stroke="#000" stroke-width="1.20"/>
<text x="513.45" y="273.50" font-size="8.30" text-anchor="middle" >12</text>
<line x1="374.90" y1="180.90" x2="378.90" y2="180.90" stroke="#000" stroke-width="1.00"/>
<line x1="375.70" y1="195.12" x2="378.90" y2="195.12" stroke="#000" stroke-width="0.80" opacity="0.80"/>
<line x1="375.70" y1="191.54" x2="378.90" y2="191.54" stroke="#000" stroke-width="0.80" opacity="0.80"/>
<line x1="375.70" y1="189.00" x2="378.90" y2="189.00" stroke="#000" stroke-width="0.80" opacity="0.80"/>
<line x1="375.70" y1="187.03" x2="378.90" y2="187.03" stroke="#000" stroke-width="0.80" opacity="0.80"/>
<line x1="375.70" y1="185.41" x2="378.90" y2="185.41" stroke="#000" stroke-width="0.80" opacity="0.80"/>
<line x1="375.70" y1="184.05" x2="378.90" y2="184.05" stroke="#000" stroke-width="0.80" opacity="0.80"/>
<line x1="375.70" y1="182.87" x2="378.90" y2="182.87" stroke="#000" stroke-width="0.80" opacity="0.80"/>
<line x1="375.70" y1="181.83" x2="378.90" y2="181.83" stroke="#000" stroke-width="0.80" opacity="0.80"/>
<text x="374.70" y="181.50" font-size="6.50" text-anchor="end" class="t">10</text>
<text x="375.20" y="178.90" font-size="2.70" text-anchor="start" class="t">5</text>
<line x1="374.90" y1="201.25" x2="378.90" y2="201.25" stroke="#000" stroke-width="1.00"/>
<line x1="375.70" y1="215.47" x2="378.90" y2="215.47" stroke="#000" stroke-width="0.80" opacity="0.80"/>
<line x1="375.70" y1="211.89" x2="378.90" y2="211.89" stroke="#000" stroke-width="0.80" opacity="0.80"/>
<line x1="375.70" y1="209.35" x2="378.90" y2="209.35" stroke="#000" stroke-width="0.80" opacity="0.80"/>
<line x1="375.70" y1="207.38" x2="378.90" y2="207.38" stroke="#000" stroke-width="0.80" opacity="0.80"/>
<line x1="375.70" y1="205.76" x2="378.90" y2="205.76" stroke="#000" stroke-width="0.80" opacity="0.80"/>
<line x1="375.70" y1="204.40" x2="378.90" y2="204.40" stroke="#000" stroke-width="0.80" opacity="0.80"/>
<line x1="375.70" y1="203.22" x2="378.90" y2="203.22" stroke="#000" stroke-width="0.80" opacity="0.80"/>
<line x1="375.70" y1="202.18" x2="378.90" y2="202.18" stroke="#000" stroke-width="0.80" opacity="0.80"/>
<text x="374.70" y="201.00" font-size="6.50" text-anchor="end" class="t">10</text>
<text x="375.20" y="198.40" font-size="2.70" text-anchor="start" class="t">4</text>
<line x1="374.90" y1="221.60" x2="378.90" y2="221.60" stroke="#000" stroke-width="1.00"/>
<line x1="375.70" y1="235.82" x2="378.90" y2="235.82" stroke="#000" stroke-width="0.80" opacity="0.80"/>
<line x1="375.70" y1="232.24" x2="378.90" y2="232.24" stroke="#000" stroke-width="0.80" opacity="0.80"/>
<line x1="375.70" y1="229.70" x2="378.90" y2="229.70" stroke="#000" stroke-width="0.80" opacity="0.80"/>
<line x1="375.70" y1="227.73" x2="378.90" y2="227.73" stroke="#000" stroke-width="0.80" opacity="0.80"/>
<line x1="375.70" y1="226.11" x2="378.90" y2="226.11" stroke="#000" stroke-width="0.80" opacity="0.80"/>
<line x1="375.70" y1="224.75" x2="378.90" y2="224.75" stroke="#000" stroke-width="0.80" opacity="0.80"/>
<line x1="375.70" y1="223.57" x2="378.90" y2="223.57" stroke="#000" stroke-width="0.80" opacity="0.80"/>
<line x1="375.70" y1="222.53" x2="378.90" y2="222.53" stroke="#000" stroke-width="0.80" opacity="0.80"/>
<text x="374.70" y="221.00" font-size="6.50" text-anchor="end" class="t">10</text>
<text x="375.20" y="218.40" font-size="2.70" text-anchor="start" class="t">3</text>
<line x1="374.90" y1="241.95" x2="378.90" y2="241.95" stroke="#000" stroke-width="1.00"/>
<line x1="375.70" y1="256.17" x2="378.90" y2="256.17" stroke="#000" stroke-width="0.80" opacity="0.65"/>
<line x1="375.70" y1="252.59" x2="378.90" y2="252.59" stroke="#000" stroke-width="0.80" opacity="0.65"/>
<line x1="375.70" y1="250.05" x2="378.90" y2="250.05" stroke="#000" stroke-width="0.80" opacity="0.65"/>
<line x1="375.70" y1="248.08" x2="378.90" y2="248.08" stroke="#000" stroke-width="0.80" opacity="0.65"/>
<line x1="375.70" y1="246.46" x2="378.90" y2="246.46" stroke="#000" stroke-width="0.80" opacity="0.65"/>
<line x1="375.70" y1="245.10" x2="378.90" y2="245.10" stroke="#000" stroke-width="0.80" opacity="0.65"/>
<line x1="375.70" y1="243.92" x2="378.90" y2="243.92" stroke="#000" stroke-width="0.80" opacity="0.65"/>
<line x1="375.70" y1="242.88" x2="378.90" y2="242.88" stroke="#000" stroke-width="0.80" opacity="0.65"/>
<text x="374.70" y="240.20" font-size="6.50" text-anchor="end" class="t">10</text>
<text x="375.20" y="237.60" font-size="2.70" text-anchor="start" class="t">2</text>
<text transform="translate(365.80 260.00) rotate(-90)" font-size="8.1" class="y" text-anchor="start" textLength="82.60" lengthAdjust="spacing">Fluorescence Counts</text>
<text x="431.70" y="285.10" font-size="8.60" text-anchor="start" textLength="42.00" lengthAdjust="spacing" >TTCF[nM]</text>
<text x="386.50" y="176.80" font-size="10.50" text-anchor="start" font-style="italic" class="k">K</text>
<text x="394.10" y="180.90" font-size="6.60" text-anchor="start" >D</text>
<text x="399.50" y="176.80" font-size="10.50" text-anchor="start" textLength="38.00" lengthAdjust="spacing" class="k">=1.4nM</text>
<line x1="463.00" y1="161.10" x2="472.00" y2="161.10" stroke="#000" stroke-width="1.50"/>
<circle cx="467.50" cy="161.10" r="2.20"/>
<line x1="463.00" y1="170.90" x2="472.00" y2="170.90" stroke="#000" stroke-width="1.50"/>
<rect x="465.20" y="168.50" width="4.60" height="4.80"/>
<text x="474.60" y="164.50" font-size="8.30" text-anchor="start" textLength="42.00" lengthAdjust="spacing" >TTCF Ab 5</text>
<text x="474.40" y="175.25" font-size="8.30" text-anchor="start" textLength="28.80" lengthAdjust="spacing" >Ctrl Ab</text>
<path d="M388.65 251.00 L388.70 237.18 L388.74 232.01 L388.79 228.77 L388.84 226.40 L388.89 224.54 L388.93 223.01 L388.98 221.71 L389.03 220.58 L389.08 219.58 L389.12 218.69 L389.17 217.88 L389.21 217.21 L389.26 216.54 L389.31 215.87 L389.36 215.19 L389.42 214.52 L389.49 213.86 L389.56 213.19 L389.63 212.52 L389.71 211.86 L389.80 211.20 L389.90 210.54 L390.00 209.89 L390.11 209.23 L390.23 208.59 L390.36 207.94 L390.50 207.30 L390.66 206.66 L390.82 206.03 L391.00 205.41 L391.20 204.79 L391.41 204.17 L391.64 203.56 L391.88 202.96 L392.15 202.37 L392.44 201.78 L392.75 201.20 L393.09 200.63 L393.46 200.07 L393.86 199.52 L394.29 198.97 L394.75 198.44 L395.26 197.92 L395.81 197.41 L396.40 196.91 L397.04 196.42 L397.73 195.95 L398.48 195.49 L399.29 195.04 L400.17 194.60 L401.13 194.18 L402.16 193.77 L403.28 193.37 L404.49 192.99 L405.80 192.63 L407.21 192.27 L408.75 191.93 L410.41 191.61 L412.21 191.30 L414.16 191.00 L416.27 190.71 L418.55 190.44 L421.02 190.19 L423.70 189.94 L426.60 189.71 L429.74 189.49 L433.13 189.28 L436.81 189.09 L440.79 188.90 L445.11 188.73 L449.77 188.56 L454.83 188.41 L460.30 188.26 L466.22 188.12 L472.64 188.00 L479.58 187.88 L487.10 187.76 L495.24 187.66 L504.06 187.56 L513.60 187.47" fill="none" stroke="#000" stroke-width="1.5" stroke-linejoin="round"/>
<path d="M388.65 251.00 L514.00 245.00" fill="none" stroke="#000" stroke-width="1.5"/>
<circle cx="389.30" cy="228.00" r="2.55"/>
<circle cx="389.80" cy="219.00" r="2.55"/>
<circle cx="390.50" cy="211.00" r="2.55"/>
<circle cx="393.10" cy="201.50" r="2.55"/>
<circle cx="400.60" cy="194.75" r="2.55"/>
<circle cx="423.50" cy="188.00" r="2.55"/>
<circle cx="492.50" cy="188.00" r="2.55"/>
<rect x="386.70" y="248.00" width="4.60" height="5.00"/>
<rect x="388.20" y="248.50" width="4.60" height="5.00"/>
<rect x="390.70" y="248.00" width="4.60" height="5.00"/>
<rect x="398.20" y="246.50" width="4.60" height="5.00"/>
<rect x="421.20" y="246.50" width="4.60" height="5.00"/>
<rect x="490.20" y="243.00" width="4.60" height="5.00"/>
</g>
<defs><filter id="b" x="0" y="0" width="520" height="288" filterUnits="userSpaceOnUse" color-interpolation-filters="sRGB"><feGaussianBlur in="SourceGraphic" stdDeviation="0.8" result="g"/><feComposite in="SourceGraphic" in2="g" operator="arithmetic" k1="0" k2="0.8" k3="0.3" k4="0"/></filter></defs>
</svg>
</body></html>
